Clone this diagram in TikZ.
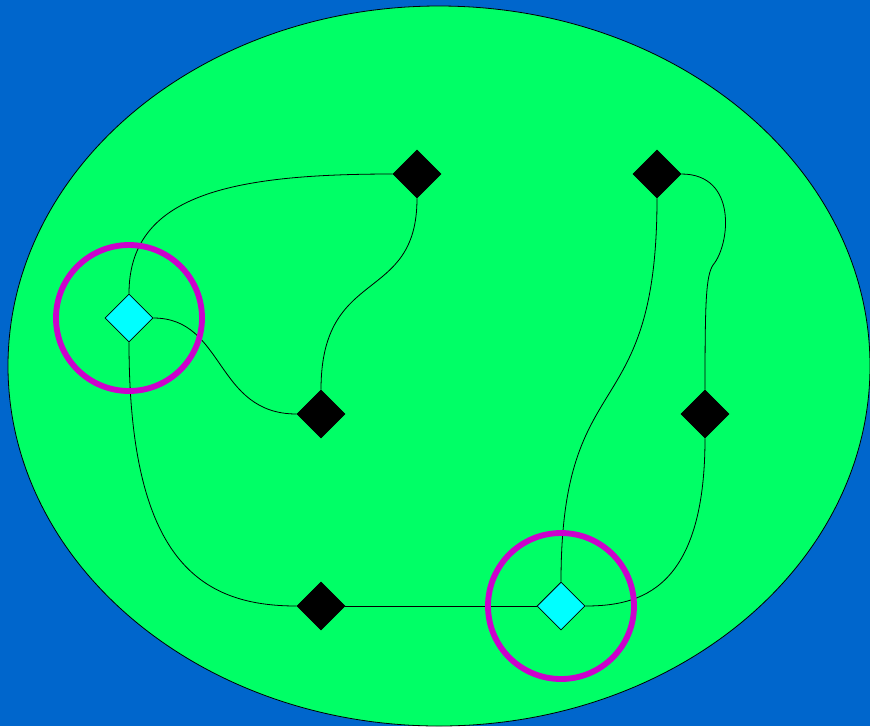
\documentclass[tikz,border=0pt]{standalone}
\usetikzlibrary{shapes.geometric}
\definecolor{bgblue}{HTML}{0066CC}
\definecolor{fieldgreen}{HTML}{00FF66}
\definecolor{ringmag}{HTML}{CC00CC}
\definecolor{nodecyan}{HTML}{00FFFF}
\tikzset{
  dmd/.style={shape=diamond, draw=black, line width=0.6pt, minimum width=36pt, minimum height=36pt, inner sep=0pt},
  blk/.style={dmd, fill=black},
  cyn/.style={dmd, fill=nodecyan},
  wire/.style={draw=black, line width=0.6pt},
  ring/.style={draw=ringmag, line width=4.4pt}
}
\begin{document}
\begin{tikzpicture}[x=0.75pt,y=-0.75pt]
\fill[bgblue] (0,0) rectangle (870,726);
\useasboundingbox (0,0) rectangle (870,726);
\draw[fill=fieldgreen, line width=0.6pt] (439,366) ellipse [x radius=431, y radius=360];

\node[blk] (a) at (417,174) {};
\node[blk] (b) at (657,174) {};
\node[cyn] (c1) at (129,318) {};
\node[blk] (d) at (321,414) {};
\node[blk] (e) at (705,414) {};
\node[blk] (f) at (321,606) {};
\node[cyn] (c2) at (561,606) {};

\draw[wire] (c1.north) .. controls (129,195) and (230,174) .. (a.west);
\draw[wire] (a.south) .. controls (417,305) and (321,265) .. (d.north);
\draw[wire] (c1.east) .. controls (225,318) and (215,414) .. (d.west);
\draw[wire] (c1.south) .. controls (129,560) and (200,606) .. (f.west);
\draw[wire] (f.east) -- (c2.west);
\draw[wire] (b.south) .. controls (657,430) and (561,360) .. (c2.north);
\draw[wire] (e.south) .. controls (705,590) and (640,606) .. (c2.east);
\coordinate (bend) at (713,265);
\draw[wire] (b.east) .. controls (738,174) and (730,245) .. (bend) .. controls (706,276) and (705,300) .. (e.north);

\draw[ring] (c1) circle [radius=73];
\draw[ring] (c2) circle [radius=73];
\end{tikzpicture}
\end{document}
